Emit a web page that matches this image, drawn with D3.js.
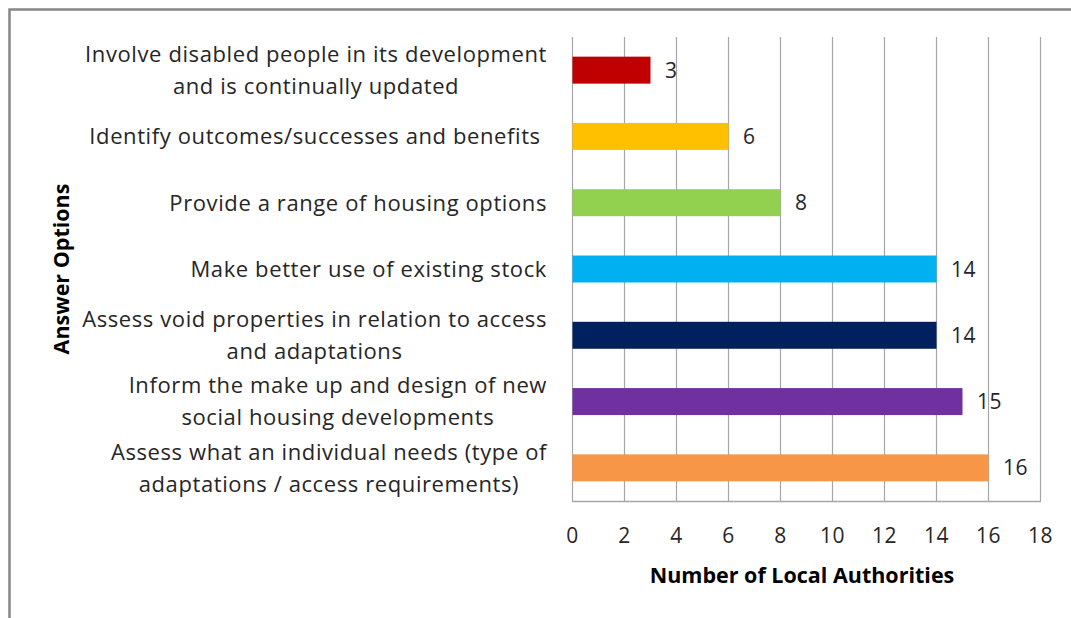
<!DOCTYPE html>
<html>
<head>
<meta charset="utf-8">
<script src="https://cdn.jsdelivr.net/npm/d3@7"></script>
<style>
  html, body { margin: 0; padding: 0; background: #ffffff; }
  svg { display: block; }
  text { font-family: "Open Sans", sans-serif; fill: #262626; }
</style>
</head>
<body>
<svg id="chart" width="1071" height="618"></svg>
<script>
// Answer options, top to bottom, with line breaks as shown on the axis
const categories = [
  ["Involve disabled people in its development", "and is continually updated"],
  ["Identify outcomes/successes and benefits\u00a0"],
  ["Provide a range of housing options"],
  ["Make better use of existing stock"],
  ["Assess void properties in relation to access", "and adaptations"],
  ["Inform the make up and design of new", "social housing developments"],
  ["Assess what an individual needs (type of", "adaptations / access requirements)"]
];
const values = [3, 6, 8, 14, 14, 15, 16];
const barColors = ["#C00000", "#FFC000", "#92D050", "#00B0F0", "#002060", "#7030A0", "#F79646"];
const xTicks = [0, 2, 4, 6, 8, 10, 12, 14, 16, 18];
const xTitle = "Number of Local Authorities";
const yTitle = "Answer Options";

const svg = d3.select("#chart");
const plot = { left: 572, right: 1040, top: 37, bottom: 501 };
const labelRight = 547;
const lineGap = 32;

const keys = categories.map((c, i) => i);
const x = d3.scaleLinear().domain([0, 18]).range([plot.left, plot.right]);
const y = d3.scaleBand().domain(keys).range([plot.top, plot.bottom])
  .paddingInner(0.593).paddingOuter(0.2965);

// Outer chart frame (left and top edges)
svg.append("path")
  .attr("d", `M9.5,618 L9.5,9.5 L1071,9.5`)
  .attr("fill", "none")
  .attr("stroke", "#878787")
  .attr("stroke-width", 2.5);

// Vertical gridlines
svg.append("g")
  .selectAll("line")
  .data(xTicks)
  .join("line")
  .attr("x1", d => Math.round(x(d)) + 0.5)
  .attr("x2", d => Math.round(x(d)) + 0.5)
  .attr("y1", plot.top)
  .attr("y2", plot.bottom)
  .attr("stroke", "#a6a6a6")
  .attr("stroke-width", 1.2);

// Bottom edge of plot area
svg.append("line")
  .attr("x1", plot.left).attr("x2", plot.right + 1)
  .attr("y1", plot.bottom + 0.5).attr("y2", plot.bottom + 0.5)
  .attr("stroke", "#a6a6a6").attr("stroke-width", 1.5);

// Bars
svg.append("g")
  .selectAll("rect")
  .data(values)
  .join("rect")
  .attr("x", x(0) + 0.5)
  .attr("y", (d, i) => y(i))
  .attr("width", d => x(d) - x(0))
  .attr("height", y.bandwidth())
  .attr("fill", (d, i) => barColors[i]);

// Value labels
svg.append("g")
  .selectAll("text")
  .data(values)
  .join("text")
  .attr("x", d => x(d) + 15)
  .attr("y", (d, i) => y(i) + y.bandwidth() / 2)
  .attr("dy", "0.36em")
  .attr("font-size", 21)
  .attr("letter-spacing", 0.5)
  .text(d => d);

// X axis tick labels
const xAxis = d3.axisBottom(x).tickValues(xTicks).tickSize(0).tickPadding(0);
const gx = svg.append("g")
  .attr("transform", `translate(0, ${plot.bottom})`)
  .call(xAxis);
gx.select(".domain").remove();
gx.selectAll("text")
  .attr("y", 42)
  .attr("dy", null)
  .attr("font-size", 21)
  .attr("letter-spacing", 0.5)
  .style("font-family", "'Open Sans', sans-serif")
  .style("fill", "#262626");

// Category labels: centred block of lines, right-aligned against the axis
const catG = svg.append("g");
categories.forEach((lines, i) => {
  const cy = y(i) + y.bandwidth() / 2;
  const g = catG.append("g");
  const texts = lines.map((line, j) => g.append("text")
    .attr("font-size", 22)
    .attr("letter-spacing", 0.6)
    .attr("text-anchor", "middle")
    .attr("y", cy + (j - (lines.length - 1) / 2) * lineGap)
    .attr("dy", "0.36em")
    .style("white-space", "pre")
    .text(line));
  const maxW = d3.max(texts, t => t.node().getComputedTextLength());
  texts.forEach(t => t.attr("x", labelRight - maxW / 2));
});

// Axis titles
svg.append("text")
  .attr("x", (plot.left + plot.right) / 2 - 4)
  .attr("y", 583)
  .attr("text-anchor", "middle")
  .attr("font-size", 21.5)
  .attr("font-weight", "bold")
  .style("fill", "#000")
  .text(xTitle);

svg.append("text")
  .attr("transform", `translate(69, ${(plot.top + plot.bottom) / 2}) rotate(-90)`)
  .attr("text-anchor", "middle")
  .attr("font-size", 21.5)
  .attr("font-weight", "bold")
  .style("fill", "#000")
  .text(yTitle);
</script>
</body>
</html>
